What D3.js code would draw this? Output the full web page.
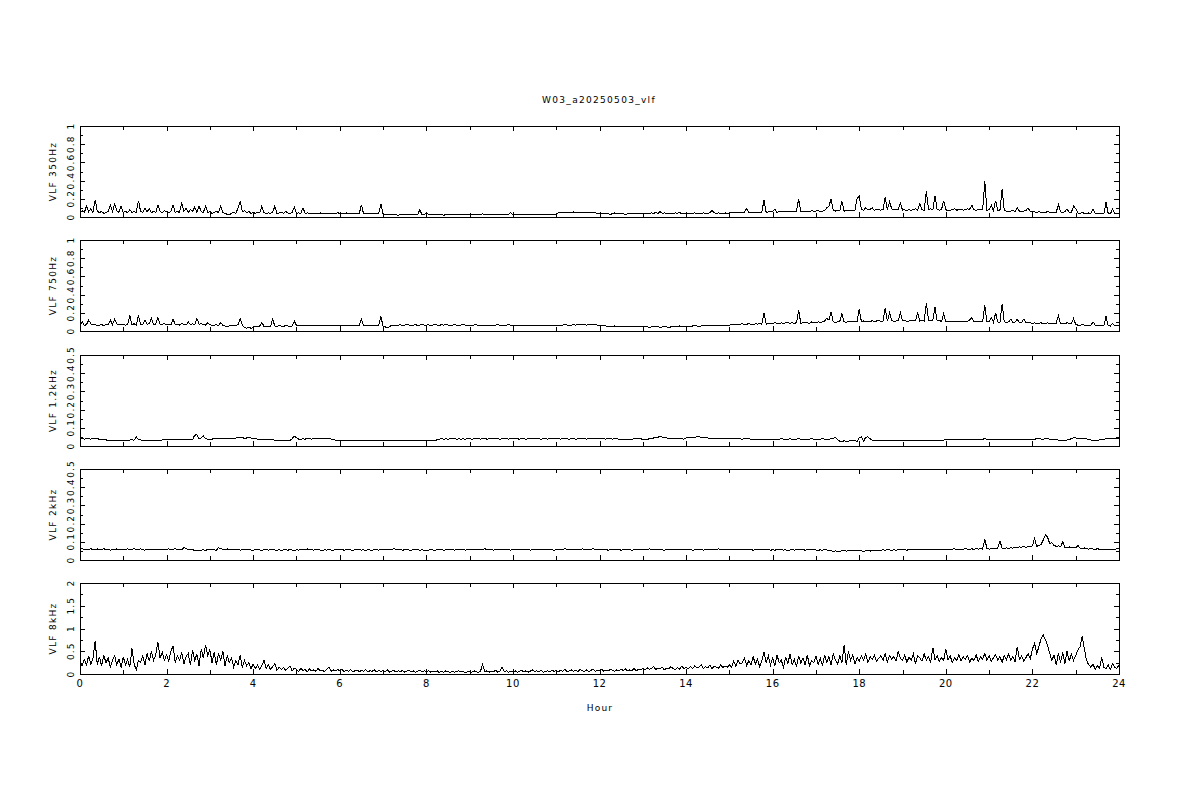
<!DOCTYPE html>
<html>
<head>
<meta charset="utf-8">
<script src="https://cdn.jsdelivr.net/npm/d3@7"></script>
<style>
  html, body { margin: 0; padding: 0; background: #fff; }
  svg { display: block; }
  text { font-family: "DejaVu Sans", sans-serif; fill: #000; }
</style>
</head>
<body>
<script>
// ---------------- data ----------------
const TITLE = "W03_a20250503_vlf";
const X_TITLE = "Hour";
const PANEL_NAMES = ["VLF 350Hz", "VLF 750Hz", "VLF 1.2kHz", "VLF 2kHz", "VLF 8kHz"];
const Y_MAX = [1, 1, 0.5, 0.5, 2];
const Y_TICK_LABELS = [
  [0, 0.2, 0.4, 0.6, 0.8, 1],
  [0, 0.2, 0.4, 0.6, 0.8, 1],
  [0, 0.1, 0.2, 0.3, 0.4, 0.5],
  [0, 0.1, 0.2, 0.3, 0.4, 0.5],
  [0, 0.5, 1, 1.5, 2]
];
const Y_MINOR_STEP = [0.1, 0.1, 0.05, 0.05, 0.25];
const X_TICKS = [0,1,2,3,4,5,6,7,8,9,10,11,12,13,14,15,16,17,18,19,20,21,22,23,24];
const X_TICK_LABELS = [0,2,4,6,8,10,12,14,16,18,20,22,24];
const SAMPLE_STEP_H = 0.05; // one value every 3 minutes, rows = one hour

const VLF_350 = [
.05,.07,.05,.12,.06,.09,.05,.19,.06,.05,.06,.04,.05,.06,.13,.06,.14,.07,.05,.12,
.05,.06,.05,.08,.05,.06,.05,.18,.06,.05,.10,.06,.09,.05,.06,.05,.13,.06,.05,.07,
.06,.05,.06,.13,.05,.06,.05,.16,.06,.10,.05,.08,.06,.11,.05,.12,.06,.05,.12,.05,
.06,.04,.05,.06,.05,.12,.05,.04,.03,.025,.04,.05,.04,.10,.17,.06,.07,.05,.06,.04,
.05,.04,.05,.045,.12,.05,.04,.045,.04,.05,.12,.04,.045,.05,.04,.06,.045,.04,.05,.11,
.04,.045,.04,.10,.04,.045,.04,.035,.04,.035,.04,.045,.035,.04,.035,.04,.035,.04,.035,.05,
.035,.04,.035,.045,.035,.04,.035,.035,.04,.035,.135,.035,.035,.035,.035,.035,.035,.035,.035,.145,
.03,.025,.03,.025,.03,.03,.025,.02,.03,.025,.03,.025,.025,.03,.025,.03,.025,.08,.025,.025,
.05,.025,.03,.025,.025,.03,.025,.025,.02,.025,.025,.03,.025,.025,.025,.03,.025,.025,.025,.025,
.025,.03,.025,.025,.03,.025,.035,.025,.025,.03,.025,.025,.025,.03,.025,.025,.025,.025,.03,.05,
.025,.025,.03,.025,.025,.025,.025,.03,.025,.025,.025,.025,.025,.025,.03,.025,.025,.025,.03,.025,
.03,.045,.045,.045,.045,.045,.05,.045,.055,.05,.055,.045,.05,.045,.05,.045,.05,.045,.045,.04,
.035,.035,.04,.035,.035,.03,.035,.045,.035,.035,.04,.035,.03,.035,.035,.04,.035,.035,.035,.04,
.04,.035,.04,.04,.045,.04,.05,.04,.06,.04,.045,.04,.04,.035,.04,.045,.04,.05,.035,.04,
.04,.035,.04,.04,.045,.04,.04,.04,.045,.04,.035,.05,.07,.045,.04,.045,.04,.04,.045,.04,
.045,.05,.045,.05,.045,.05,.05,.055,.095,.05,.05,.055,.05,.05,.055,.05,.19,.05,.055,.06,
.06,.085,.05,.06,.055,.06,.065,.055,.06,.065,.055,.06,.20,.06,.065,.06,.055,.06,.07,.065,
.065,.07,.06,.065,.07,.10,.12,.20,.07,.065,.075,.07,.17,.065,.07,.075,.07,.07,.075,.20,
.23,.08,.075,.10,.08,.085,.10,.075,.08,.08,.075,.085,.22,.08,.17,.09,.08,.085,.08,.15,
.075,.08,.07,.08,.075,.08,.09,.075,.15,.08,.075,.28,.085,.09,.08,.23,.08,.075,.08,.18,
.08,.07,.075,.08,.09,.075,.08,.085,.075,.08,.09,.085,.13,.08,.075,.08,.085,.08,.39,.075,
.08,.13,.07,.18,.07,.075,.31,.07,.065,.06,.065,.07,.06,.10,.065,.06,.065,.07,.10,.06,
.06,.055,.05,.06,.05,.055,.05,.06,.05,.055,.05,.05,.14,.055,.05,.06,.09,.05,.05,.12,
.09,.045,.04,.05,.04,.035,.045,.04,.09,.04,.035,.04,.04,.035,.16,.04,.035,.085,.04,.035,
.04
];

const VLF_750 = [
.07,.10,.06,.07,.12,.08,.065,.07,.06,.065,.07,.06,.075,.065,.12,.07,.13,.08,.065,.07,
.07,.065,.075,.17,.07,.08,.065,.17,.075,.07,.12,.075,.08,.14,.07,.075,.15,.07,.075,.08,
.07,.075,.065,.13,.07,.075,.065,.085,.07,.065,.10,.07,.08,.07,.14,.075,.08,.07,.065,.09,
.07,.06,.065,.07,.06,.095,.06,.055,.05,.055,.06,.055,.06,.07,.14,.06,.04,.03,.045,.03,
.04,.05,.045,.055,.095,.05,.055,.05,.05,.13,.055,.05,.06,.055,.05,.06,.055,.05,.055,.11,
.06,.055,.065,.06,.055,.06,.065,.06,.055,.06,.065,.06,.055,.06,.055,.065,.06,.055,.06,.065,
.06,.065,.06,.055,.06,.065,.06,.06,.065,.06,.13,.06,.065,.06,.06,.065,.06,.065,.06,.16,
.055,.045,.035,.05,.06,.065,.06,.065,.07,.06,.065,.07,.065,.06,.065,.07,.06,.065,.07,.065,
.065,.07,.06,.065,.07,.065,.06,.07,.065,.07,.065,.06,.065,.07,.065,.06,.065,.07,.065,.06,
.065,.06,.065,.07,.06,.065,.06,.065,.06,.055,.065,.06,.065,.07,.06,.065,.06,.065,.07,.065,
.06,.065,.06,.055,.06,.065,.06,.06,.055,.06,.065,.06,.055,.06,.065,.06,.055,.06,.065,.06,
.06,.065,.06,.065,.07,.065,.06,.065,.07,.065,.075,.065,.07,.075,.065,.07,.075,.065,.07,.065,
.06,.055,.06,.055,.05,.055,.05,.055,.05,.045,.05,.055,.05,.045,.05,.055,.05,.05,.045,.05,
.045,.05,.045,.04,.045,.05,.045,.05,.04,.045,.05,.045,.04,.045,.05,.045,.05,.055,.045,.05,
.05,.055,.05,.055,.06,.055,.05,.055,.06,.055,.06,.065,.055,.06,.065,.06,.055,.06,.065,.06,
.065,.07,.075,.065,.07,.075,.08,.07,.075,.08,.075,.07,.08,.075,.08,.075,.20,.075,.08,.085,
.08,.09,.085,.08,.09,.085,.09,.095,.085,.09,.085,.09,.23,.085,.09,.095,.09,.085,.10,.09,
.09,.10,.095,.10,.11,.14,.12,.21,.10,.095,.10,.105,.19,.10,.095,.105,.10,.11,.10,.105,
.24,.10,.11,.105,.11,.10,.115,.105,.11,.12,.105,.11,.25,.11,.20,.115,.105,.11,.115,.20,
.11,.115,.105,.11,.12,.11,.115,.20,.11,.12,.11,.31,.115,.11,.12,.26,.11,.115,.105,.19,
.10,.105,.11,.10,.105,.10,.11,.105,.10,.11,.105,.12,.15,.10,.105,.11,.10,.105,.28,.10,
.10,.15,.095,.20,.10,.095,.30,.10,.095,.10,.13,.095,.10,.13,.09,.095,.13,.09,.095,.09,
.085,.09,.08,.085,.09,.08,.085,.09,.08,.085,.08,.085,.17,.08,.085,.08,.09,.085,.08,.14,
.07,.065,.06,.07,.065,.06,.065,.06,.10,.065,.06,.065,.06,.055,.16,.06,.055,.08,.06,.055,
.06
];

const VLF_1200 = [
.039,.04,.038,.04,.039,.038,.04,.039,.04,.037,.038,.036,.034,.03,.029,.03,.031,.029,.03,.031,
.031,.032,.031,.033,.035,.032,.05,.036,.033,.032,.031,.033,.032,.031,.032,.033,.032,.031,.033,.034,
.033,.034,.033,.035,.034,.033,.034,.033,.035,.034,.033,.034,.035,.06,.061,.04,.045,.055,.04,.038,
.037,.038,.04,.039,.041,.04,.042,.04,.039,.041,.043,.042,.044,.046,.048,.045,.043,.044,.045,.044,
.043,.04,.038,.036,.035,.034,.033,.034,.033,.034,.032,.031,.03,.031,.03,.029,.03,.031,.04,.055,
.045,.038,.037,.039,.038,.04,.039,.038,.04,.039,.041,.04,.042,.044,.042,.04,.038,.035,.032,.031,
.031,.03,.031,.03,.029,.031,.03,.031,.03,.029,.03,.031,.03,.031,.03,.029,.031,.03,.031,.03,
.03,.031,.03,.029,.03,.031,.03,.029,.03,.031,.03,.029,.031,.03,.029,.03,.031,.03,.029,.03,
.029,.028,.029,.03,.028,.035,.038,.039,.038,.039,.038,.039,.04,.039,.038,.039,.038,.039,.038,.039,
.039,.038,.039,.04,.039,.038,.039,.04,.038,.039,.04,.039,.041,.039,.038,.039,.04,.039,.038,.039,
.039,.04,.039,.038,.04,.039,.038,.039,.04,.039,.041,.04,.039,.038,.039,.04,.038,.039,.04,.039,
.039,.04,.038,.039,.041,.039,.038,.04,.039,.038,.039,.04,.041,.039,.038,.04,.041,.04,.042,.04,
.039,.04,.039,.038,.04,.039,.038,.04,.039,.038,.036,.035,.036,.035,.037,.038,.039,.04,.041,.04,
.036,.035,.036,.04,.042,.044,.045,.048,.054,.048,.046,.044,.043,.042,.041,.04,.041,.04,.039,.038,
.045,.046,.045,.044,.046,.052,.05,.048,.045,.046,.044,.042,.043,.042,.041,.04,.041,.042,.041,.04,
.04,.039,.04,.039,.04,.039,.038,.039,.04,.039,.038,.037,.036,.037,.038,.037,.036,.037,.038,.037,
.037,.038,.037,.038,.039,.038,.037,.038,.039,.038,.037,.038,.039,.038,.037,.038,.037,.038,.039,.038,
.038,.037,.038,.039,.038,.037,.038,.039,.04,.048,.036,.027,.026,.028,.026,.027,.03,.028,.03,.026,
.045,.05,.026,.048,.05,.04,.031,.03,.031,.03,.029,.03,.031,.03,.029,.03,.031,.03,.029,.03,
.03,.031,.03,.029,.03,.031,.03,.029,.03,.031,.03,.029,.031,.03,.032,.031,.03,.032,.031,.033,
.033,.034,.035,.034,.035,.034,.036,.035,.034,.035,.036,.035,.034,.035,.036,.035,.037,.036,.043,.035,
.035,.036,.035,.034,.035,.036,.035,.037,.036,.035,.036,.037,.036,.035,.036,.037,.038,.037,.036,.037,
.037,.038,.039,.04,.038,.037,.043,.04,.038,.037,.036,.035,.033,.031,.03,.031,.033,.036,.04,.046,
.044,.042,.04,.041,.04,.039,.035,.033,.032,.033,.032,.033,.034,.035,.04,.042,.04,.041,.042,.04,
.042
];

const VLF_2000 = [
.058,.062,.055,.06,.057,.063,.056,.059,.061,.055,.058,.062,.057,.06,.054,.059,.056,.061,.057,.055,
.06,.058,.062,.056,.059,.063,.055,.058,.061,.057,.054,.059,.056,.06,.058,.055,.061,.057,.06,.056,
.058,.061,.056,.059,.063,.057,.06,.055,.07,.062,.058,.055,.057,.052,.055,.05,.054,.056,.053,.057,
.055,.058,.056,.053,.068,.062,.06,.058,.061,.057,.059,.056,.055,.058,.054,.057,.06,.056,.058,.055,
.054,.057,.059,.055,.052,.056,.058,.054,.057,.06,.055,.053,.056,.052,.055,.058,.054,.057,.055,.053,
.056,.054,.058,.055,.057,.061,.056,.058,.054,.057,.06,.055,.052,.056,.054,.058,.055,.053,.057,.055,
.055,.058,.054,.057,.06,.055,.053,.057,.055,.058,.054,.056,.052,.057,.055,.053,.058,.056,.054,.057,
.055,.058,.056,.06,.057,.063,.058,.055,.057,.054,.056,.058,.055,.053,.057,.055,.058,.054,.056,.053,
.05,.054,.057,.055,.053,.058,.055,.057,.054,.056,.058,.055,.057,.054,.056,.059,.055,.057,.054,.056,
.055,.058,.056,.06,.057,.055,.058,.062,.057,.055,.058,.054,.057,.055,.058,.056,.059,.055,.057,.054,
.057,.055,.058,.056,.06,.057,.055,.058,.054,.056,.059,.055,.058,.056,.06,.057,.055,.058,.056,.054,
.057,.059,.055,.058,.062,.058,.06,.056,.058,.055,.06,.057,.061,.058,.056,.06,.058,.062,.057,.055,
.056,.058,.055,.057,.054,.058,.056,.059,.055,.057,.054,.056,.058,.055,.057,.054,.056,.059,.055,.057,
.058,.06,.056,.062,.058,.057,.059,.055,.058,.056,.054,.057,.055,.058,.056,.06,.057,.055,.058,.056,
.057,.055,.058,.054,.056,.058,.055,.057,.054,.058,.056,.059,.055,.058,.057,.062,.058,.056,.059,.055,
.057,.06,.056,.058,.055,.057,.06,.056,.058,.055,.057,.054,.056,.058,.055,.057,.059,.055,.057,.054,
.056,.054,.057,.055,.058,.054,.056,.053,.055,.057,.054,.056,.058,.055,.057,.054,.056,.058,.055,.057,
.055,.053,.056,.054,.057,.055,.052,.05,.048,.05,.047,.049,.05,.052,.049,.051,.053,.05,.052,.054,
.051,.05,.048,.05,.052,.049,.051,.054,.052,.055,.053,.056,.054,.057,.055,.053,.056,.054,.057,.055,
.056,.058,.054,.057,.055,.058,.056,.059,.055,.057,.06,.056,.058,.055,.057,.06,.058,.056,.059,.057,
.058,.06,.057,.059,.062,.058,.06,.057,.059,.062,.06,.058,.061,.059,.062,.06,.063,.06,.115,.062,
.06,.062,.065,.063,.066,.104,.065,.063,.066,.064,.067,.065,.07,.068,.072,.07,.074,.07,.073,.075,
.078,.12,.075,.08,.085,.11,.137,.125,.09,.095,.08,.075,.078,.072,.1,.07,.068,.072,.066,.07,
.068,.08,.065,.063,.066,.062,.06,.063,.06,.058,.062,.059,.06,.057,.061,.058,.06,.057,.059,.062,
.06
];

const VLF_8000 = [
.25,.18,.32,.2,.4,.22,.35,.73,.2,.38,.17,.42,.24,.36,.15,.3,.4,.2,.33,.14,
.38,.2,.32,.15,.56,.22,.09,.3,.25,.4,.2,.45,.28,.5,.3,.42,.7,.35,.48,.3,
.42,.28,.5,.62,.25,.4,.3,.48,.22,.38,.45,.2,.52,.3,.44,.18,.55,.35,.64,.4,
.53,.25,.48,.2,.45,.3,.5,.18,.4,.25,.35,.15,.3,.2,.42,.14,.3,.18,.25,.12,
.22,.12,.2,.1,.18,.3,.12,.2,.1,.16,.23,.08,.15,.1,.14,.08,.12,.18,.07,.13,
.1,.06,.12,.08,.1,.05,.11,.07,.09,.06,.12,.07,.08,.05,.1,.15,.06,.09,.07,.1,
.07,.1,.05,.08,.06,.1,.05,.07,.09,.05,.08,.06,.1,.05,.07,.06,.09,.05,.08,.06,
.07,.05,.09,.04,.06,.08,.04,.07,.05,.08,.04,.06,.09,.05,.07,.04,.06,.08,.05,.07,
.05,.07,.04,.06,.05,.07,.03,.06,.04,.07,.05,.03,.06,.04,.05,.07,.04,.06,.03,.05,
.06,.04,.07,.05,.04,.06,.21,.05,.07,.04,.06,.05,.08,.04,.06,.15,.05,.07,.04,.06,
.05,.07,.04,.06,.08,.05,.07,.04,.06,.09,.05,.07,.05,.08,.04,.06,.07,.05,.08,.06,
.07,.05,.08,.06,.1,.05,.07,.09,.06,.08,.05,.1,.07,.06,.09,.05,.08,.11,.06,.08,
.07,.1,.06,.09,.07,.1,.08,.06,.09,.07,.1,.08,.11,.07,.09,.08,.12,.07,.1,.09,
.12,.09,.14,.1,.12,.16,.1,.13,.11,.15,.09,.13,.11,.16,.12,.1,.14,.11,.17,.12,
.14,.11,.16,.12,.18,.13,.15,.2,.12,.16,.14,.19,.12,.17,.15,.13,.2,.14,.18,.15,
.2,.15,.28,.17,.3,.22,.25,.35,.18,.3,.2,.38,.22,.32,.16,.3,.48,.25,.4,.2,
.35,.18,.42,.25,.3,.15,.38,.22,.44,.2,.32,.16,.4,.24,.35,.2,.42,.18,.3,.25,
.4,.2,.35,.18,.42,.26,.38,.2,.45,.3,.22,.4,.25,.64,.2,.5,.3,.42,.22,.36,
.28,.4,.3,.45,.25,.38,.32,.42,.28,.35,.4,.3,.45,.26,.4,.33,.38,.28,.49,.35,
.3,.42,.25,.38,.3,.45,.22,.4,.35,.28,.44,.3,.38,.25,.58,.32,.4,.28,.36,.3,
.55,.3,.4,.25,.36,.3,.42,.28,.38,.32,.4,.26,.35,.3,.42,.28,.38,.33,.45,.3,
.4,.28,.36,.42,.3,.38,.26,.4,.32,.44,.3,.38,.27,.6,.32,.4,.28,.36,.45,.33,
.55,.67,.45,.6,.78,.86,.75,.64,.45,.3,.42,.2,.45,.25,.48,.22,.5,.28,.44,.3,
.4,.53,.6,.83,.55,.3,.2,.15,.22,.1,.18,.12,.37,.15,.12,.2,.1,.23,.15,.12,
.2
];

const SERIES = [VLF_350, VLF_750, VLF_1200, VLF_2000, VLF_8000];

// ---------------- layout ----------------
const W = 1200, H = 800;
const PLOT_LEFT = 80, PLOT_RIGHT = 1119;
const PANEL_TOP0 = 126, PANEL_STEP = 114.25, PANEL_H = 91;

const svg = d3.select("body").append("svg")
  .attr("width", W).attr("height", H)
  .attr("shape-rendering", "crispEdges");

const x = d3.scaleLinear().domain([0, 24]).range([PLOT_LEFT, PLOT_RIGHT]);

svg.append("text")
  .attr("x", 599).attr("y", 103)
  .attr("text-anchor", "middle")
  .style("font-size", "9px").style("letter-spacing", "1.3px")
  .text(TITLE);

const fmt = d3.format("~g");

SERIES.forEach((vals, i) => {
  const top = Math.round(PANEL_TOP0 + i * PANEL_STEP);
  const bottom = top + PANEL_H;
  const y = d3.scaleLinear().domain([0, Y_MAX[i]]).range([bottom, top]);
  const g = svg.append("g");

  // data line
  const pts = vals.map((v, k) => ({ h: k * SAMPLE_STEP_H, v }));
  const line = d3.line().x(d => x(d.h)).y(d => y(d.v));
  g.append("path").datum(pts)
    .attr("d", line)
    .attr("fill", "none").attr("stroke", "#000").attr("stroke-width", 1);

  // frame
  g.append("rect")
    .attr("x", PLOT_LEFT + 0.5).attr("y", top + 0.5)
    .attr("width", PLOT_RIGHT - PLOT_LEFT).attr("height", PANEL_H)
    .attr("fill", "none").attr("stroke", "#000").attr("stroke-width", 1);

  // x ticks (top & bottom, inward)
  X_TICKS.forEach(t => {
    const xx = Math.round(x(t)) + 0.5;
    const len = (t % 2 === 0) ? 5 : 4;
    g.append("line").attr("x1", xx).attr("x2", xx)
      .attr("y1", top).attr("y2", top + len).attr("stroke", "#000");
    g.append("line").attr("x1", xx).attr("x2", xx)
      .attr("y1", bottom).attr("y2", bottom - len).attr("stroke", "#000");
  });

  // y ticks (left & right, inward)
  const minor = d3.range(0, Math.round(Y_MAX[i] / Y_MINOR_STEP[i]) + 1).map(k => k * Y_MINOR_STEP[i]);
  minor.forEach((t, k) => {
    const yy = Math.round(y(t)) + 0.5;
    const len = (k % 2 === 0) ? 5 : 3;
    g.append("line").attr("x1", PLOT_LEFT).attr("x2", PLOT_LEFT + len)
      .attr("y1", yy).attr("y2", yy).attr("stroke", "#000");
    g.append("line").attr("x1", PLOT_RIGHT).attr("x2", PLOT_RIGHT - len)
      .attr("y1", yy).attr("y2", yy).attr("stroke", "#000");
  });

  // y tick labels (rotated)
  Y_TICK_LABELS[i].forEach(t => {
    svg.append("text")
      .attr("transform", `translate(74,${y(t)}) rotate(-90)`)
      .attr("text-anchor", "middle")
      .style("font-size", "9px").style("letter-spacing", "1.1px")
      .text(fmt(t));
  });

  // panel label
  svg.append("text")
    .attr("transform", `translate(56,${(top + bottom) / 2}) rotate(-90)`)
    .attr("text-anchor", "middle")
    .style("font-size", "9px").style("letter-spacing", "1.3px")
    .text(PANEL_NAMES[i]);

  if (i === SERIES.length - 1) {
    X_TICK_LABELS.forEach(t => {
      svg.append("text")
        .attr("x", x(t)).attr("y", bottom + 13)
        .attr("text-anchor", "middle")
        .style("font-size", "10px").style("letter-spacing", "0.5px")
        .text(t);
    });
    svg.append("text")
      .attr("x", 600).attr("y", bottom + 37)
      .attr("text-anchor", "middle")
      .style("font-size", "9px").style("letter-spacing", "1.2px")
      .text(X_TITLE);
  }
});
</script>
</body>
</html>
